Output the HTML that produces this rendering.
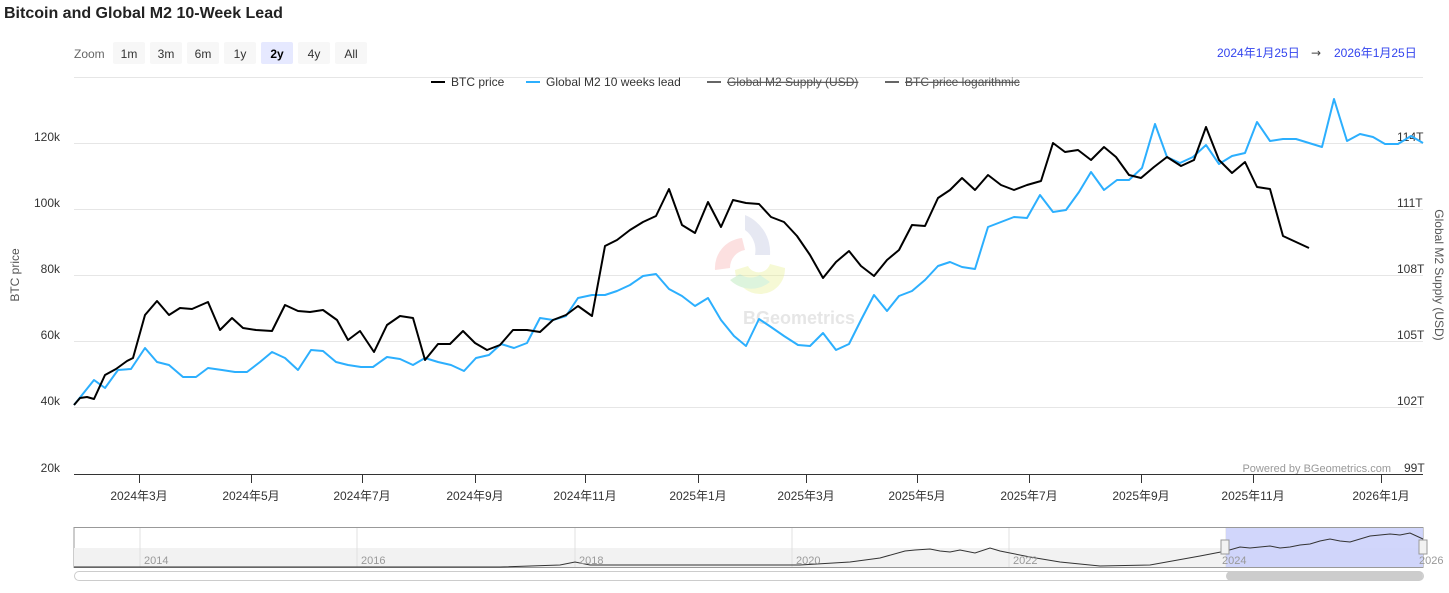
<!DOCTYPE html>
<html><head><meta charset="utf-8"><style>
body{margin:0;background:#fff;width:1449px;height:588px;overflow:hidden;font-family:"Liberation Sans","Noto Sans CJK SC",sans-serif}
svg text{font-family:"Liberation Sans","Noto Sans CJK SC",sans-serif}
</style></head><body>
<svg width="1449" height="588" xmlns="http://www.w3.org/2000/svg">
<text x="4" y="18" font-size="16" font-weight="bold" fill="#222">Bitcoin and Global M2 10-Week Lead</text>
<text x="74" y="58" font-size="12" fill="#666">Zoom</text>
<g font-size="12" fill="#333" text-anchor="middle">
<rect x="113" y="42" width="32" height="22" rx="2" fill="#f7f7f7"/><text x="129" y="58">1m</text>
<rect x="150" y="42" width="32" height="22" rx="2" fill="#f7f7f7"/><text x="166" y="58">3m</text>
<rect x="187" y="42" width="32" height="22" rx="2" fill="#f7f7f7"/><text x="203" y="58">6m</text>
<rect x="224" y="42" width="32" height="22" rx="2" fill="#f7f7f7"/><text x="240" y="58">1y</text>
<rect x="261" y="42" width="32" height="22" rx="2" fill="#e6e9ff"/><text x="277" y="58" font-weight="bold" fill="#000">2y</text>
<rect x="298" y="42" width="32" height="22" rx="2" fill="#f7f7f7"/><text x="314" y="58">4y</text>
<rect x="335" y="42" width="32" height="22" rx="2" fill="#f7f7f7"/><text x="351" y="58">All</text>
</g>
<text x="1217" y="57" font-size="12" fill="#3344ee">2024年1月25日</text>
<text x="1311" y="57" font-size="12" fill="#444" style="font-family:'DejaVu Sans',sans-serif">→</text>
<text x="1334" y="57" font-size="12" fill="#3344ee">2026年1月25日</text>
<g stroke="#e6e6e6" stroke-width="1">
<line x1="74" y1="77.5" x2="1423" y2="77.5"/><line x1="74" y1="143.5" x2="1423" y2="143.5"/><line x1="74" y1="209.5" x2="1423" y2="209.5"/><line x1="74" y1="275.5" x2="1423" y2="275.5"/><line x1="74" y1="341.5" x2="1423" y2="341.5"/><line x1="74" y1="407.5" x2="1423" y2="407.5"/>
</g>
<g font-size="12" fill="#333">
<line x1="431" y1="82" x2="445" y2="82" stroke="#000" stroke-width="2"/><text x="451" y="86">BTC price</text>
<line x1="526" y1="82" x2="540" y2="82" stroke="#2caffe" stroke-width="2"/><text x="546" y="86">Global M2 10 weeks lead</text>
<line x1="707" y1="82" x2="721" y2="82" stroke="#666" stroke-width="2"/><text x="727" y="86" fill="#555" text-decoration="line-through">Global M2 Supply (USD)</text>
<line x1="885" y1="82" x2="899" y2="82" stroke="#666" stroke-width="2"/><text x="905" y="86" fill="#555" text-decoration="line-through">BTC price logarithmic</text>
</g>
<g opacity="0.35">
<path d="M745 215 A40 40 0 0 1 770 255 L755 255 A25 25 0 0 0 745 230 Z" fill="#b8bedc"/>
<path d="M742 238 A30 30 0 0 0 715 270 L730 268 A18 18 0 0 1 745 250 Z" fill="#f7a8a8"/>
<path d="M735 270 A25 25 0 0 0 785 268 L770 264 A12 12 0 0 1 748 266 Z" fill="#e8f08a"/>
<path d="M730 280 A30 30 0 0 0 770 282 L760 275 A18 18 0 0 1 740 274 Z" fill="#9fe09f"/>
</g>
<text x="743" y="324" font-size="18" font-weight="bold" fill="#e6e6e6">BGeometrics</text>
<g font-size="12" fill="#333" text-anchor="end">
<text x="60" y="141">120k</text><text x="60" y="207">100k</text><text x="60" y="273">80k</text><text x="60" y="339">60k</text><text x="60" y="405">40k</text><text x="60" y="472">20k</text>
</g>
<g font-size="12" fill="#333">
<text x="1397" y="141">114T</text><text x="1397" y="207">111T</text><text x="1397" y="273">108T</text><text x="1397" y="339">105T</text><text x="1397" y="405">102T</text><text x="1404" y="472">99T</text>
</g>
<text x="19" y="275" font-size="12" fill="#555" text-anchor="middle" transform="rotate(-90 19 275)">BTC price</text>
<text x="1435" y="275" font-size="12" fill="#555" text-anchor="middle" transform="rotate(90 1435 275)">Global M2 Supply (USD)</text>
<text x="1391" y="472" font-size="11" fill="#999" text-anchor="end">Powered by BGeometrics.com</text>
<line x1="74" y1="474.5" x2="1423" y2="474.5" stroke="#333"/>
<g stroke="#333"><line x1="139.5" y1="474" x2="139.5" y2="483"/><line x1="251.5" y1="474" x2="251.5" y2="483"/><line x1="362.5" y1="474" x2="362.5" y2="483"/><line x1="475.5" y1="474" x2="475.5" y2="483"/><line x1="585.5" y1="474" x2="585.5" y2="483"/><line x1="698.5" y1="474" x2="698.5" y2="483"/><line x1="806.5" y1="474" x2="806.5" y2="483"/><line x1="917.5" y1="474" x2="917.5" y2="483"/><line x1="1029.5" y1="474" x2="1029.5" y2="483"/><line x1="1141.5" y1="474" x2="1141.5" y2="483"/><line x1="1253.5" y1="474" x2="1253.5" y2="483"/><line x1="1381.5" y1="474" x2="1381.5" y2="483"/></g>
<g font-size="12" fill="#333" text-anchor="middle">
<text x="139" y="500">2024年3月</text><text x="251" y="500">2024年5月</text><text x="362" y="500">2024年7月</text><text x="475" y="500">2024年9月</text><text x="585" y="500">2024年11月</text><text x="698" y="500">2025年1月</text><text x="806" y="500">2025年3月</text><text x="917" y="500">2025年5月</text><text x="1029" y="500">2025年7月</text><text x="1141" y="500">2025年9月</text><text x="1253" y="500">2025年11月</text><text x="1381" y="500">2026年1月</text>
</g>
<polyline fill="none" stroke="#2caffe" stroke-width="2" stroke-linejoin="round" points="74,405 82,395 94,380 105,388 118,370 131,369 145,348 157,362 169,365 183,377 196,377 208,368 222,370 235,372 247,372 260,362 272,352 285,358 298,370 311,350 323,351 336,362 348,365 361,367 373,367 387,357 400,359 413,365 425,358 438,362 451,365 464,371 476,358 489,355 501,344 514,348 527,343 540,318 553,320 566,316 578,298 592,295 605,295 617,291 630,285 643,276 656,274 669,289 682,296 695,306 708,298 721,320 734,336 746,346 759,319 771,327 784,336 798,345 810,346 823,333 836,350 849,344 861,320 874,295 887,311 899,296 912,291 925,280 938,266 950,262 962,267 975,269 988,227 1001,222 1014,217 1027,218 1040,195 1053,212 1066,210 1079,192 1091,172 1104,190 1117,180 1129,180 1142,168 1155,124 1167,157 1180,163 1193,157 1206,145 1219,164 1232,156 1245,153 1257,122 1270,141 1283,139 1296,139 1309,143 1322,147 1334,99 1347,141 1360,134 1373,137 1385,144 1398,144 1411,136 1423,143"/>
<polyline fill="none" stroke="#000" stroke-width="2" stroke-linejoin="round" points="74,405 80,398 87,397 94,399 105,375 116,369 127,361 133,358 145,315 157,301 169,315 180,308 192,309 208,302 220,330 232,318 243,328 256,330 272,331 285,305 298,311 310,312 323,310 337,320 348,340 360,331 374,352 387,325 400,316 413,318 425,360 438,344 450,344 463,331 475,343 487,350 500,345 513,330 527,330 540,332 553,320 566,315 578,306 592,316 605,246 617,240 630,230 643,222 656,216 669,189 682,225 695,233 708,202 721,227 733,200 746,203 759,204 771,217 784,222 797,236 810,255 823,278 836,262 849,251 861,266 874,276 887,260 899,250 912,225 925,226 938,198 950,190 962,178 975,190 988,175 1001,185 1014,190 1027,185 1041,181 1053,143 1065,152 1078,150 1091,160 1104,147 1116,157 1129,175 1141,178 1154,167 1167,157 1181,166 1194,160 1206,127 1219,160 1232,173 1245,162 1257,187 1270,189 1283,236 1296,242 1309,248"/>
<rect x="74" y="527.5" width="1349" height="40" fill="#fff" stroke="#999"/>
<rect x="74" y="548" width="1349" height="19" fill="#f2f2f2"/>
<g stroke="#e0e0e0"><line x1="140" y1="528" x2="140" y2="567"/><line x1="357" y1="528" x2="357" y2="567"/><line x1="575" y1="528" x2="575" y2="567"/><line x1="792" y1="528" x2="792" y2="567"/><line x1="1009" y1="528" x2="1009" y2="567"/><line x1="1226" y1="528" x2="1226" y2="567"/></g>
<rect x="1226" y="528" width="197" height="39" fill="#ccd2fb" opacity="0.9"/>
<polyline fill="none" stroke="#333" stroke-width="1" points="74,567 500,567 560,565 575,562 590,565 700,565 800,565 850,562 880,558 905,551 915,550 930,549 940,551 950,552 960,550 975,553 990,548 1000,551 1010,553 1030,557 1060,562 1100,566 1150,565 1200,556 1226,551 1240,547 1250,548 1270,546 1280,548 1290,547 1300,545 1310,544 1320,541 1330,539 1340,541 1350,542 1360,539 1370,536 1380,535 1390,534 1400,535 1410,533 1423,539"/>
<g font-size="11" fill="#999"><text x="144" y="564">2014</text><text x="361" y="564">2016</text><text x="579" y="564">2018</text><text x="796" y="564">2020</text><text x="1013" y="564">2022</text><text x="1222" y="564">2024</text><text x="1419" y="564">2026</text></g>
<rect x="1221" y="540" width="8" height="14" fill="#f2f2f2" stroke="#999"/><rect x="1419" y="540" width="8" height="14" fill="#f2f2f2" stroke="#999"/>
<rect x="74.5" y="571.5" width="1349" height="9" rx="4.5" fill="#fff" stroke="#ccc"/>
<rect x="1226" y="571" width="197" height="10" rx="5" fill="#ccc"/>
</svg>
</body></html>
